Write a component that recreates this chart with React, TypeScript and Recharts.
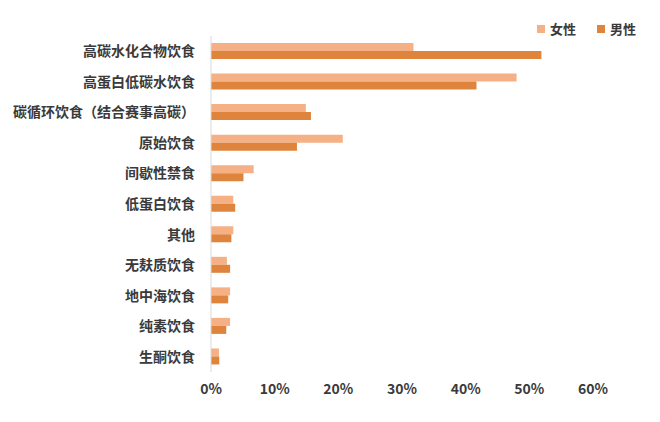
import { Bar, BarChart, XAxis, YAxis } from "recharts";

const categories = [
  "高碳水化合物饮食",
  "高蛋白低碳水饮食",
  "碳循环饮食（结合赛事高碳）",
  "原始饮食",
  "间歇性禁食",
  "低蛋白饮食",
  "其他",
  "无麸质饮食",
  "地中海饮食",
  "纯素饮食",
  "生酮饮食",
];

const female = [31.8, 48.0, 14.9, 20.7, 6.7, 3.5, 3.5, 2.5, 3.0, 3.0, 1.25];
const male = [51.9, 41.7, 15.7, 13.5, 5.1, 3.8, 3.2, 3.0, 2.7, 2.4, 1.3];

const xTicks = [0, 10, 20, 30, 40, 50, 60];

const FEMALE_COLOR = "#F5B185";
const MALE_COLOR = "#DF843D";
const TEXT_COLOR = "#3A3A3A";
const FONT = "'Noto Sans CJK SC', 'Noto Sans', sans-serif";

const data = categories.map((name, i) => ({
  name,
  female: female[i],
  male: male[i],
}));

const legendItems = [
  { label: "女性", color: FEMALE_COLOR },
  { label: "男性", color: MALE_COLOR },
];

export default function App() {
  return (
    <div style={{ position: "relative", width: 660, height: 422, background: "#fff" }}>
      <style>{`body{margin:0}`}</style>
      <BarChart
        width={660}
        height={422}
        data={data}
        layout="vertical"
        margin={{ top: 36, right: 67, bottom: 20, left: 0 }}
        barSize={8}
        barGap={0}
      >
        <XAxis
          type="number"
          domain={[0, 60]}
          ticks={xTicks}
          tickFormatter={(v) => `${v}%`}
          axisLine={false}
          tickLine={false}
          height={30}
          tick={{ fill: TEXT_COLOR, fontSize: 14, fontWeight: 700, fontFamily: FONT }}
          tickMargin={6}
        />
        <YAxis
          type="category"
          dataKey="name"
          width={211}
          axisLine={{ stroke: "#D9D9D9" }}
          tickLine={false}
          tickMargin={10}
          tick={{ fill: TEXT_COLOR, fontSize: 14, fontWeight: 700, fontFamily: FONT }}
          interval={0}
        />
        <Bar dataKey="female" fill={FEMALE_COLOR} isAnimationActive={false} />
        <Bar dataKey="male" fill={MALE_COLOR} isAnimationActive={false} />
      </BarChart>
      <div
        style={{
          position: "absolute",
          top: 19,
          left: 537,
          display: "flex",
          gap: 21,
          fontFamily: FONT,
          fontWeight: 700,
          fontSize: 13,
          color: TEXT_COLOR,
        }}
      >
        {legendItems.map((item) => (
          <div key={item.label} style={{ display: "flex", alignItems: "center", gap: 5 }}>
            <span style={{ width: 8, height: 8, background: item.color, display: "inline-block" }} />
            <span>{item.label}</span>
          </div>
        ))}
      </div>
    </div>
  );
}
